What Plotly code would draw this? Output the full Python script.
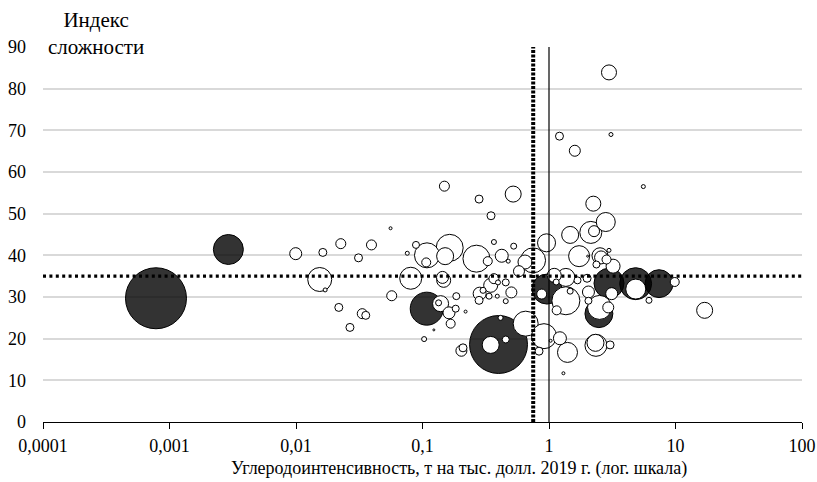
import plotly.graph_objects as go

# ---- data ----
# dark bubbles
dark_x = [0.000782, 0.00292, 0.108, 0.399, 0.964, 2.98, 4.84, 7.41, 2.48]
dark_y = [29.7, 41.4, 27.2, 18.6, 31.9, 33.3, 33.2, 33.2, 26.0]
dark_size = [37.2, 9.0, 10.9, 33.6, 9.0, 9.0, 10.2, 7.8, 7.8]

# light (white) bubbles
light_x = [0.00995, 0.0163, 0.0226, 0.0395, 0.0312, 0.0154, 0.0170, 0.0218, 0.0334, 0.0356,
           0.0267, 0.149, 0.280, 0.521, 0.348, 0.0559, 0.0758, 0.0888, 0.1085, 0.164,
           0.151, 0.107, 0.267, 0.328, 0.367, 0.423, 0.476, 0.526, 0.956, 0.646,
           0.748, 0.579, 0.0807, 0.147, 0.144, 0.0571, 0.139, 0.134, 0.185, 0.183,
           0.162, 0.167, 0.219, 0.123, 0.103, 0.283, 0.280, 0.346, 0.367, 0.395,
           0.455, 0.336, 0.390, 0.504, 0.455, 0.301, 0.346, 0.455, 0.414, 0.654,
           0.203, 0.209, 0.834, 0.876, 1.21, 3.09, 1.60, 5.57, 2.24, 2.81,
           1.47, 2.14, 2.27, 1.73, 2.53, 2.58, 2.85, 3.21, 2.98, 2.37,
           2.02, 1.10, 1.36, 1.14, 1.68, 2.00, 1.47, 1.36, 1.15, 3.13,
           4.85, 9.86, 6.17, 2.05, 2.05, 2.94, 2.51, 17.0, 0.913, 1.03,
           1.22, 1.40, 2.33, 2.35, 3.04, 1.30, 2.98]
light_y = [40.4, 40.7, 42.8, 42.5, 39.4, 34.2, 31.7, 27.5, 26.0, 25.6,
           22.7, 56.6, 53.5, 54.7, 49.5, 46.5, 40.5, 42.5, 40.0, 41.8,
           39.8, 38.3, 39.2, 38.6, 43.2, 39.9, 38.6, 42.2, 43.0, 38.4,
           38.8, 36.2, 34.5, 34.0, 34.7, 30.3, 28.4, 28.6, 30.2, 27.2,
           26.2, 23.6, 26.5, 22.1, 19.9, 30.8, 29.2, 32.8, 34.4, 33.5,
           33.5, 30.2, 30.2, 31.1, 29.0, 31.6, 18.5, 19.8, 25.0, 23.6,
           17.1, 17.8, 17.0, 30.7, 68.6, 69.0, 65.1, 56.5, 52.4, 48.0,
           44.9, 45.5, 45.8, 39.8, 39.9, 39.5, 39.0, 37.4, 41.2, 37.8,
           39.8, 35.2, 34.7, 33.6, 34.0, 34.5, 31.4, 29.1, 26.8, 30.8,
           31.9, 33.6, 29.2, 31.2, 29.1, 27.5, 27.5, 26.8, 20.6, 19.5,
           20.1, 16.7, 19.0, 18.4, 18.5, 11.7, 83.9]
light_size = [1.44, 0.64, 1.0, 1.0, 0.64, 5.76, 0.16, 0.64, 1.0, 0.64,
              0.64, 1.0, 0.64, 2.56, 0.64, 0.09, 0.16, 0.49, 6.25, 7.29,
              2.89, 0.81, 7.29, 0.81, 0.25, 1.69, 0.16, 0.36, 3.24, 1.96,
              6.25, 1.21, 4.84, 1.96, 1.44, 1.0, 2.56, 0.36, 0.49, 0.49,
              1.44, 0.81, 0.09, 0.04, 0.25, 1.69, 0.64, 1.96, 1.0, 0.25,
              0.49, 0.36, 0.16, 1.21, 0.25, 0.36, 2.89, 0.49, 0.25, 6.25,
              1.21, 0.64, 0.64, 1.0, 0.64, 0.16, 1.21, 0.16, 2.25, 3.61,
              2.89, 4.84, 1.21, 4.41, 2.56, 1.69, 0.81, 1.96, 0.16, 0.49,
              0.04, 1.96, 3.24, 0.36, 0.49, 0.64, 0.36, 7.84, 0.81, 1.44,
              4.0, 0.81, 0.36, 1.44, 0.49, 1.21, 5.76, 2.56, 6.25, 0.09,
              1.69, 4.0, 2.89, 4.84, 0.64, 0.09, 2.25]

# thresholds
threshold_x_dotted = 0.75
threshold_x_solid = 1.0
threshold_y = 35

x_tick_vals = [0.0001, 0.001, 0.01, 0.1, 1, 10, 100]
x_tick_text = ["0,0001", "0,001", "0,01", "0,1", "1", "10", "100"]
y_tick_vals = [0, 10, 20, 30, 40, 50, 60, 70, 80, 90]

x_title = "Углеродоинтенсивность, т на тыс. долл. 2019 г. (лог. шкала)"
y_title = "Индекс<br>сложности"

# ---- build ----
DARK = "rgba(0,0,0,0.8)"
LIGHT = "white"
xs = dark_x + light_x
ys = dark_y + light_y
ss = dark_size + light_size
cs = [DARK] * len(dark_x) + [LIGHT] * len(light_x)
order = sorted(range(len(xs)), key=lambda i: -ss[i])

fig = go.Figure()
fig.add_trace(go.Scatter(
    x=[xs[i] for i in order], y=[ys[i] for i in order], mode="markers",
    marker=dict(size=[ss[i] for i in order], sizemode="area", sizeref=0.02, sizemin=1,
                opacity=1, color=[cs[i] for i in order], line=dict(color="black", width=1)),
    hoverinfo="skip", cliponaxis=False))

font_family = "Liberation Serif"

fig.add_trace(go.Scatter(x=[x_tick_vals[0], x_tick_vals[-1]], y=[threshold_y, threshold_y],
                         mode="lines", line=dict(color="black", width=3.3, dash="3px,3.4px"),
                         hoverinfo="skip"))
fig.add_trace(go.Scatter(x=[threshold_x_dotted, threshold_x_dotted], y=[0, 90],
                         mode="lines", line=dict(color="black", width=4, dash="3px,1.5px"),
                         hoverinfo="skip"))
fig.add_trace(go.Scatter(x=[threshold_x_solid, threshold_x_solid], y=[0, 90],
                         mode="lines", line=dict(color="black", width=1.2),
                         hoverinfo="skip"))

fig.update_layout(
    width=817, height=482,
    margin=dict(l=43, r=15, t=47, b=60, autoexpand=False),
    paper_bgcolor="white", plot_bgcolor="white",
    showlegend=False, hovermode=False,
    font=dict(family=font_family, size=18, color="black"),
)
fig.update_xaxes(type="log", range=[-4, 2], tickvals=x_tick_vals, ticktext=x_tick_text,
                 automargin=False, ticklabeloverflow="allow",
                 showgrid=False, zeroline=False, showline=True, linecolor="black", linewidth=1.2,
                 ticks="outside", ticklen=6, tickcolor="black", tickwidth=1.2,
                 ticklabelstandoff=1,
                 tickfont=dict(family=font_family, size=18, color="black"))
fig.update_yaxes(range=[0, 90], tickvals=y_tick_vals, showgrid=True, gridcolor="#d9d9d9",
                 automargin=False, ticklabeloverflow="allow",
                 gridwidth=1.5, zeroline=False, showline=False, ticks="",
                 ticklabelstandoff=16,
                 tickfont=dict(family=font_family, size=18, color="black"))

fig.add_annotation(text=x_title, xref="paper", yref="paper", x=0.548, y=-0.1227,
                   xanchor="center", yanchor="middle", showarrow=False,
                   font=dict(family=font_family, size=18, color="black"))
fig.add_annotation(text=y_title, xref="paper", yref="paper", x=0.07, y=1.0365,
                   xanchor="center", yanchor="middle", showarrow=False,
                   font=dict(family=font_family, size=21, color="black"))

# remove the default page margin so the figure fills the 817x482 window exactly
page_fix = ("document.documentElement.style.overflow='hidden';"
            "document.body.style.margin='0';document.body.style.overflow='hidden';")
fig.write_html("out.html", post_script=page_fix, config={"displayModeBar": False})
